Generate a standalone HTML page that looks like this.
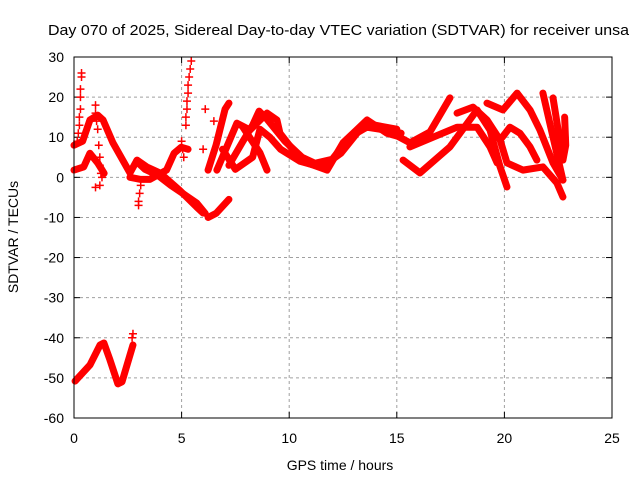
<!DOCTYPE html>
<html><head><meta charset="utf-8"><style>
body{margin:0;background:#fff;}
svg{display:block;font-family:"Liberation Sans",sans-serif;}
</style></head><body>
<svg id="chart" width="640" height="480">
<rect x="0" y="0" width="640" height="480" fill="#fff"/>
<text x="48" y="35" font-size="15" textLength="581" lengthAdjust="spacingAndGlyphs" fill="#000">Day 070 of 2025, Sidereal Day-to-day VTEC variation (SDTVAR) for receiver unsa</text>
<text transform="translate(18,237) rotate(-90)" text-anchor="middle" font-size="14" fill="#000">SDTVAR / TECUs</text>
<text x="340" y="470" text-anchor="middle" font-size="14" fill="#000">GPS time / hours</text>
<g id="grid"></g>
<g id="ticks"></g>
<g id="series"></g>
<rect x="74" y="57" width="538" height="361" fill="none" stroke="#000" stroke-width="1"/>
</svg>
<script>
const xTicks=[0,5,10,15,20,25];
const yTicks=[-60,-50,-40,-30,-20,-10,0,10,20,30];
const trackA=[[0.05,-50.8],[0.74,-46.8],[1.21,-41.8],[1.39,-41.3],[1.67,-45.5],[2.04,-51.5],[2.23,-51],[2.74,-41.8]];
const trackB=[[0,8],[0.4,9],[0.74,14.3],[1.1,15.5],[1.35,14.3],[1.81,8.6],[2.6,1.1],[2.93,4.3],[3.38,2.6],[3.99,1.1],[4.9,-3.2],[5.7,-7.4],[6.0,-8.9]];
const trackC=[[0,1.8],[0.45,2.6],[0.74,6],[1.1,3.6],[1.4,1]];
const trackC2=[[2.6,0],[3.07,-0.5],[3.53,-0.5],[4.3,1.8],[4.65,6],[4.98,7.5],[5.3,7]];
const trackD=[[2.9,4],[3.3,2],[3.9,0.5],[4.5,-2],[5.05,-4],[5.7,-6.4],[6.1,-9]];
const trackE=[[6.23,-10],[6.6,-9],[7.2,-5.5]];
const trackE2=[[6.23,1.8],[6.6,8],[7.02,17],[7.2,18.5]];
const trackL2=[[6.64,1.8],[7.57,13.5],[8.18,11.8],[8.97,16],[9.43,14.3],[9.57,11],[10.18,6.8],[10.83,3.6],[11.76,1.8],[12.5,8.6],[13.62,14.3],[14.54,11],[15.15,10.1]];
const trackL3=[[7.85,12.5],[8.64,6.1],[8.97,1.8]];
const trackL4=[[7.2,3],[7.85,9],[8.3,13],[8.6,16.5],[8.97,14.5],[9.8,9],[10.6,5],[11.2,3.5],[12,4.5],[12.8,10],[13.6,12.5],[14.2,12],[15.2,11]];
const trackL5=[[6.9,7],[7.5,2],[8.3,5],[8.64,12],[9.1,10],[9.6,7],[10.5,4],[11.5,2.5],[12.4,6],[13.3,12],[14.0,13],[15.0,12]];
const trackG1=[[14.68,11.3],[15.61,8.6],[16.54,11.3],[17.47,19.8]];
const trackG2=[[15.29,4.3],[16.08,1.1],[17.47,7.6],[18.73,16.8],[19.33,11.8],[19.8,2.6],[20.12,-2.4]];
const trackG3=[[15.61,7.6],[17.8,12.5],[18.73,12.5],[19.33,7.6],[19.66,3.6]];
const trackG4=[[17.8,16],[18.54,17.5],[19.19,14.3],[19.8,9.3],[20.12,3.6],[20.86,1.8],[21.79,2.6],[22.44,-1.4],[22.72,-4.9]];
const trackG5=[[19.19,18.5],[19.93,16.8],[20.59,21],[21.19,16.8],[21.65,11.8],[22.26,3.6],[22.72,-0.7]];
const trackG6=[[19.8,9.3],[20.26,12.5],[20.72,11],[21.19,7.6],[21.51,4.3]];
const trackG7=[[21.79,21],[22.72,-0.7]];
const trackG8=[[22.26,19.8],[22.72,4.3],[22.85,8],[22.8,15]];
const scatterPts=[[0.35,26],[0.35,25],[0.3,22],[0.3,20],[0.3,17],[0.25,15],[0.25,13],[0.2,11],[0.15,9],
[1.0,18],[1.0,16],[1.05,14],[1.1,12],[1.15,8],[1.2,5],[1.2,3],[1.25,1],[1.3,0],[1.2,-2],[1.0,-2.5],
[5.45,29],[5.4,27],[5.35,25],[5.3,23],[5.3,21],[5.25,19],[5.25,17],[5.2,15],[5.2,13],[5.0,9],[5.05,7],[5.1,5],
[3.1,-2],[3.05,-4],[3.0,-6],[3.0,-7],[6.1,17],[6.5,14],[6.0,7],[2.74,-39],[2.7,-40]];
const tracks=[trackA,trackB,trackC,trackC2,trackD,trackE,trackE2,trackL2,trackL3,trackL4,trackL5,trackG1,trackG2,trackG3,trackG4,trackG5,trackG6,trackG7,trackG8];

const NS="http://www.w3.org/2000/svg";
const X0=74,X1=612,Y0=418,Y1=57;
function sx(h){return X0+(h-0)/(25-0)*(X1-X0);}
function sy(v){return Y0-(v-(-60))/(30-(-60))*(Y0-Y1);}
const grid=document.getElementById('grid'),ticks=document.getElementById('ticks'),series=document.getElementById('series');
function mk(tag,attrs,parent){const e=document.createElementNS(NS,tag);for(const k in attrs)e.setAttribute(k,attrs[k]);parent.appendChild(e);return e;}
xTicks.forEach(t=>{
  const x=sx(t);
  if(t>0&&t<25){const g=mk('line',{x1:x,y1:Y1,x2:x,y2:Y0,stroke:'#a0a0a0','stroke-dasharray':'3,3'},grid);
  
  }
  mk('line',{x1:x,y1:Y0,x2:x,y2:Y0-6,stroke:'#000'},ticks);
  mk('line',{x1:x,y1:Y1,x2:x,y2:Y1+6,stroke:'#000'},ticks);
  const l=mk('text',{x:x,y:Y0+25,'text-anchor':'middle','font-size':14},ticks);l.textContent=t;
  
  
});
yTicks.forEach(t=>{
  const y=sy(t);
  if(t>-60&&t<30){const g=mk('line',{x1:X0,y1:y,x2:X1,y2:y,stroke:'#a0a0a0','stroke-dasharray':'3,3'},grid);
  
  }
  mk('line',{x1:X0,y1:y,x2:X0+6,y2:y,stroke:'#000'},ticks);
  mk('line',{x1:X1,y1:y,x2:X1-6,y2:y,stroke:'#000'},ticks);
  const l=mk('text',{x:X0-10,y:y+5,'text-anchor':'end','font-size':14},ticks);l.textContent=t;
  
  
});
tracks.forEach((tr,i)=>{
  const p=mk('polyline',{points:tr.map(d=>sx(d[0])+','+sy(d[1])).join(' '),fill:'none',stroke:'#ff0000','stroke-width':7,'stroke-linejoin':'round','stroke-linecap':'round'},series);
  
  
});
scatterPts.forEach(d=>{
  const x=sx(d[0]),y=sy(d[1]);
  const m=mk('path',{d:`M${x-4},${y}H${x+4}M${x},${y-4}V${y+4}`,stroke:'#ff0000','stroke-width':1.5},series);
  
  
});
</script>
</body></html>
